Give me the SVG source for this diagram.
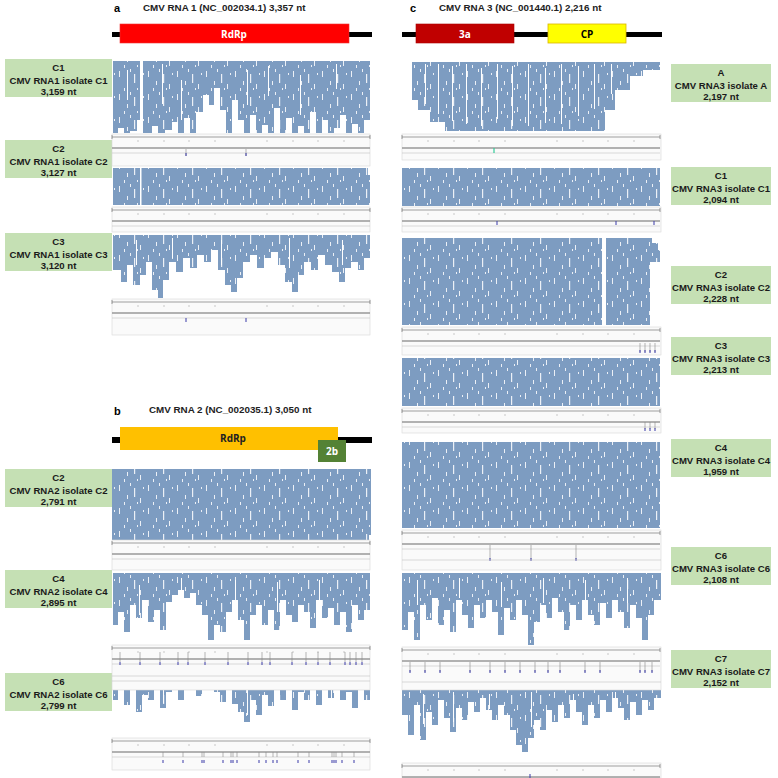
<svg xmlns="http://www.w3.org/2000/svg" xmlns:xlink="http://www.w3.org/1999/xlink" width="778" height="778" viewBox="0 0 778 778">
<style>
.hd{font-family:"Liberation Sans",Arial,sans-serif;font-weight:bold;font-size:11px;fill:#000}
.tt{font-family:"Liberation Sans",Arial,sans-serif;font-weight:bold;font-size:9.8px;fill:#222}
.lb{font-family:"Liberation Sans",Arial,sans-serif;font-weight:bold;font-size:9.6px;fill:#1a1a1a;text-anchor:middle}
.gn{font-family:"Open Sans","Liberation Sans",sans-serif;font-weight:bold;font-size:10px;text-anchor:middle}
.box{fill:#c5e0b4}
.rd{fill:#7d9cc1}
.tx{fill:url(#tx)}
.wl{fill:#fff}
.bg{fill:#fafafa;stroke:#d8d8d8;stroke-width:0.6}
.rul{stroke:#777;stroke-width:0.7;fill:none}
.ln{stroke:#999;stroke-width:1.4;fill:none}
.ln2{stroke:#c8c8c8;stroke-width:0.7;fill:none}
.mt{stroke:#aaa;stroke-width:0.6;fill:none}
.vt{stroke:#3a3aa8;stroke-width:1;fill:none}
.gt{stroke:#888;stroke-width:0.6;fill:none}
</style>
<defs>
<pattern id="tx" width="29" height="23" patternUnits="userSpaceOnUse">
<rect x="3" y="2" width="1" height="6" fill="#fff" opacity="0.85"/>
<rect x="11" y="12" width="1" height="4" fill="#fff" opacity="0.85"/>
<rect x="18" y="5" width="1.2" height="9" fill="#fff" opacity="0.85"/>
<rect x="24" y="15" width="1" height="5" fill="#fff" opacity="0.85"/>
<rect x="8" y="19" width="1" height="3" fill="#fff" opacity="0.85"/>
<rect x="14" y="0" width="1" height="3" fill="#fff" opacity="0.85"/>
<rect x="27" y="4" width="1" height="2" fill="#fff" opacity="0.85"/>
<rect x="21" y="19" width="1" height="2" fill="#fff" opacity="0.85"/>
</pattern>
<g id="trk">
<path class="rul" d="M0,0H258M0,-2V2M258,-2V2"/>
<rect x="124" y="-1" width="10" height="2" fill="#ccc"/>
<path class="mt" d="M26,3V5M52,3V5M77,3V5M103,3V5M155,3V5M181,3V5M206,3V5M232,3V5"/>
<path class="ln" d="M0,11H258"/>
<path class="ln2" d="M0,16H258"/>
</g>
<path id="p1" d="M113,61V133H118V128H124V133H130V131H137V120H140V61H143V133H152V126H158V133H165V130H172V122H178V133H184V118H190V133H196V112H203V95H209V105H214V88H220V110H226V133H232V100H238V120H244V133H250V115H256V133H262V125H268V133H274V108H280V133H286V118H292V133H298V126H304V133H310V112H316V133H322V120H328V133H334V128H340V115H346V133H352V124H358V133H364V120H370V61Z"/>
<path id="p2" d="M113,168H368V175H370V205H113Z"/>
<path id="p3" d="M113,235V270H121V282H127V265H133V285H140V275H146V262H152V290H158V298H163V280H169V262H176V272H183V258H190V268H197V255H204V262H211V250H218V270H225V285H231V292H237V278H243V262H250V255H257V268H264V258H271V252H278V265H285V282H292V292H298V275H304V262H311V270H318V255H325V265H332V272H339V282H345V268H351V262H358V270H364V258H370V235Z"/>
<path id="p4" d="M112,469H371V535H369V540H112Z"/>
<path id="p5" d="M113,573V625H118V612H124V632H130V605H136V618H142V600H148V622H154V610H160V630H166V602H172V595H178V590H184V598H190V593H196V605H202V615H208V640H214V625H220V632H226V612H232V600H238V620H244V640H250V615H256V605H262V625H268V610H274V630H280V600H286V615H292V622H298V605H304V612H310V628H316V600H322V618H328V608H334V625H340V612H346V632H352V605H358V620H364V610H370V573Z"/>
<path id="p6" d="M113,675V700H118V690H124V705H130V688H136V712H142V695H148V700H154V686H160V708H166V692H172V685H178V700H184V690H190V684H196V696H202V688H208V684H214V692H220V702H226V690H232V704H238V712H244V722H250V700H256V715H262V695H268V706H274V690H280V700H286V686H292V710H298V692H304V700H310V688H316V705H322V690H328V698H334V686H340V700H346V692H352V708H358V690H364V700H370V675Z"/>
<path id="p7" d="M412,62H660V70H643V76H630V90H615V110H605V131H445V122H430V110H418V100H412Z"/>
<path id="p8" d="M402,168H660V206H402Z"/>
<path id="p9" d="M402,238H602V325H402Z"/>
<path id="p9b" d="M606,238H652V243H658V250H660V262H650V325H606Z"/>
<path id="p10" d="M402,358H660V406H402Z"/>
<path id="p11" d="M402,442H660V528H402Z"/>
<path id="p12" d="M402,573V630H408V612H414V640H420V605H426V620H432V598H438V625H444V610H450V632H456V600H462V615H468V628H474V605H480V618H486V600H492V612H498V635H504V608H510V620H516V600H522V615H528V645H534V622H540V605H546V618H552V598H558V612H564V630H570V605H576V620H582V600H588V615H594V625H600V603H606V618H612V600H618V612H624V628H630V605H636V618H642V640H648V615H654V600H661V573Z"/>
<path id="p13" d="M402,690V715H408V735H414V705H420V740H426V712H432V725H438V700H444V718H450V732H456V708H462V720H468V702H474V712H480V698H486V710H492V720H498V705H504V715H510V730H516V745H522V752H528V738H534V720H540V730H546V710H552V722H558V705H564V718H570V700H576V712H582V725H588V705H594V718H600V700H606V712H612V698H618V708H624V720H630V702H636V715H642V700H648V710H654V698H661V690Z"/>
</defs>

<!-- Panel a header -->
<g id="hdr-a">
<text class="hd" x="114" y="12">a</text>
<text class="tt" x="143" y="11">CMV RNA 1 (NC_002034.1) 3,357 nt</text>
<rect x="112" y="32" width="260" height="5" fill="#000"/>
<rect x="120" y="24" width="229" height="19" fill="#ff0000" stroke="#e33" stroke-width="0.6"/>
<text class="gn" x="234" y="37.5" fill="#fff">RdRp</text>
</g>

<!-- Panel c header -->
<g id="hdr-c">
<text class="hd" x="410" y="12">c</text>
<text class="tt" x="439" y="11">CMV RNA 3 (NC_001440.1) 2,216 nt</text>
<rect x="402" y="32" width="260" height="5" fill="#000"/>
<rect x="416" y="24" width="98" height="19" fill="#c00000" stroke="#a00" stroke-width="0.6"/>
<text class="gn" x="465" y="37.5" fill="#fff">3a</text>
<rect x="548" y="24" width="78" height="19" fill="#ffff00" stroke="#d9b400" stroke-width="0.8"/>
<text class="gn" x="587" y="37.5" fill="#000">CP</text>
</g>

<!-- Panel b header -->
<g id="hdr-b">
<text class="hd" x="114" y="415">b</text>
<text class="tt" x="149" y="413">CMV RNA 2 (NC_002035.1) 3,050 nt</text>
<rect x="112" y="437" width="260" height="6" fill="#000"/>
<rect x="120" y="427" width="218" height="23" fill="#ffc000"/>
<text class="gn" x="233" y="442" fill="#222">RdRp</text>
<rect x="318" y="440" width="28" height="22" fill="#548235"/>
<text class="gn" x="332" y="455" fill="#fff">2b</text>
</g>

<!-- Left labels -->
<g id="lab-r1c1"><rect class="box" x="5" y="59" width="107" height="38"/><text class="lb" x="58.5" y="71">C1</text><text class="lb" x="58.5" y="83.5">CMV RNA1 isolate C1</text><text class="lb" x="58.5" y="94.5">3,159 nt</text></g>
<g id="lab-r1c2"><rect class="box" x="5" y="140" width="107" height="38"/><text class="lb" x="58.5" y="152">C2</text><text class="lb" x="58.5" y="164.5">CMV RNA1 isolate C2</text><text class="lb" x="58.5" y="175.5">3,127 nt</text></g>
<g id="lab-r1c3"><rect class="box" x="5" y="233" width="107" height="38"/><text class="lb" x="58.5" y="245">C3</text><text class="lb" x="58.5" y="257.5">CMV RNA1 isolate C3</text><text class="lb" x="58.5" y="268.5">3,120 nt</text></g>
<g id="lab-r2c2"><rect class="box" x="5" y="469" width="107" height="38"/><text class="lb" x="58.5" y="481">C2</text><text class="lb" x="58.5" y="493.5">CMV RNA2 isolate C2</text><text class="lb" x="58.5" y="504.5">2,791 nt</text></g>
<g id="lab-r2c4"><rect class="box" x="5" y="570" width="107" height="38"/><text class="lb" x="58.5" y="582">C4</text><text class="lb" x="58.5" y="594.5">CMV RNA2 isolate C4</text><text class="lb" x="58.5" y="605.5">2,895 nt</text></g>
<g id="lab-r2c6"><rect class="box" x="5" y="673" width="107" height="38"/><text class="lb" x="58.5" y="685">C6</text><text class="lb" x="58.5" y="697.5">CMV RNA2 isolate C6</text><text class="lb" x="58.5" y="708.5">2,799 nt</text></g>

<!-- Right labels -->
<g id="lab-r3a"><rect class="box" x="671" y="64" width="100" height="38"/><text class="lb" x="721" y="76">A</text><text class="lb" x="721" y="88.5">CMV RNA3 isolate A</text><text class="lb" x="721" y="99.5">2,197 nt</text></g>
<g id="lab-r3c1"><rect class="box" x="671" y="167" width="100" height="38"/><text class="lb" x="721" y="179">C1</text><text class="lb" x="721" y="191.5">CMV RNA3 isolate C1</text><text class="lb" x="721" y="202.5">2,094 nt</text></g>
<g id="lab-r3c2"><rect class="box" x="671" y="266" width="100" height="38"/><text class="lb" x="721" y="278">C2</text><text class="lb" x="721" y="290.5">CMV RNA3 isolate C2</text><text class="lb" x="721" y="301.5">2,228 nt</text></g>
<g id="lab-r3c3"><rect class="box" x="671" y="337" width="100" height="38"/><text class="lb" x="721" y="349">C3</text><text class="lb" x="721" y="361.5">CMV RNA3 isolate C3</text><text class="lb" x="721" y="372.5">2,213 nt</text></g>
<g id="lab-r3c4"><rect class="box" x="671" y="439" width="100" height="38"/><text class="lb" x="721" y="451">C4</text><text class="lb" x="721" y="463.5">CMV RNA3 isolate C4</text><text class="lb" x="721" y="474.5">1,959 nt</text></g>
<g id="lab-r3c6"><rect class="box" x="671" y="547" width="100" height="38"/><text class="lb" x="721" y="559">C6</text><text class="lb" x="721" y="571.5">CMV RNA3 isolate C6</text><text class="lb" x="721" y="582.5">2,108 nt</text></g>
<g id="lab-r3c7"><rect class="box" x="671" y="650" width="100" height="38"/><text class="lb" x="721" y="662">C7</text><text class="lb" x="721" y="674.5">CMV RNA3 isolate C7</text><text class="lb" x="721" y="685.5">2,152 nt</text></g>

<!-- Read coverage panels -->
<g id="reads-r1c1"><use xlink:href="#p1" class="rd"/><use xlink:href="#p1" class="tx"/>
<path class="wl" d="M127,70h1v30h-1zM162,64h1v40h-1zM181,80h1v40h-1zM247,70h1v35h-1zM268,66h1v30h-1zM300,75h1v40h-1zM336,64h1v25h-1z"/></g>
<g id="reads-r1c2"><use xlink:href="#p2" class="rd"/><use xlink:href="#p2" class="tx"/>
<rect class="wl" x="140" y="168" width="1.5" height="37"/></g>
<g id="reads-r1c3"><use xlink:href="#p3" class="rd"/><use xlink:href="#p3" class="tx"/>
<path class="wl" d="M136,240h1v25h-1zM172,238h1v20h-1zM221,240h1v25h-1zM289,238h1v30h-1zM342,240h1v25h-1z"/></g>
<g id="reads-r2c2"><use xlink:href="#p4" class="rd"/><use xlink:href="#p4" class="tx"/></g>
<g id="reads-r2c4"><use xlink:href="#p5" class="rd"/><use xlink:href="#p5" class="tx"/>
<path class="wl" d="M139,585h1v30h-1zM181,578h1v12h-1zM235,580h1v25h-1zM277,582h1v30h-1zM319,580h1v20h-1z"/></g>
<g id="reads-r2c6"><use xlink:href="#p6" class="rd"/><use xlink:href="#p6" class="tx"/>
<path class="wl" d="M133,680h1v25h-1zM163,678h1v25h-1zM199,676h1v12h-1zM247,680h1v35h-1zM289,678h1v25h-1zM331,680h1v20h-1z"/></g>

<g id="reads-r3a"><use xlink:href="#p7" class="rd"/><use xlink:href="#p7" class="tx"/>
<path class="wl" d="M425,64h1v40h-1zM438,64h1v50h-1zM452,66h1v55h-1zM466,64h1v60h-1zM481,68h1v58h-1zM497,64h1v55h-1zM512,66h1v60h-1zM528,64h1v62h-1zM545,68h1v55h-1zM561,64h1v60h-1zM578,66h1v50h-1zM594,64h1v45h-1zM611,64h1v30h-1z"/></g>
<g id="reads-r3c1"><use xlink:href="#p8" class="rd"/><use xlink:href="#p8" class="tx"/></g>
<g id="reads-r3c2"><use xlink:href="#p9" class="rd"/><use xlink:href="#p9b" class="rd"/><use xlink:href="#p9" class="tx"/><use xlink:href="#p9b" class="tx"/></g>
<g id="reads-r3c3"><use xlink:href="#p10" class="rd"/><use xlink:href="#p10" class="tx"/></g>
<g id="reads-r3c4"><use xlink:href="#p11" class="rd"/><use xlink:href="#p11" class="tx"/></g>
<g id="reads-r3c6"><use xlink:href="#p12" class="rd"/><use xlink:href="#p12" class="tx"/>
<path class="wl" d="M417,580h1v25h-1zM459,578h1v20h-1zM501,582h1v25h-1zM543,578h1v25h-1zM585,580h1v20h-1zM627,578h1v25h-1z"/></g>
<g id="reads-r3c7"><use xlink:href="#p13" class="rd"/><use xlink:href="#p13" class="tx"/>
<path class="wl" d="M423,694h1v30h-1zM453,692h1v30h-1zM489,694h1v15h-1zM531,692h1v35h-1zM573,694h1v20h-1zM615,692h1v15h-1z"/></g>

<!-- Tracks -->
<g id="trk-r1c1"><rect class="bg" x="112" y="134" width="258" height="32"/><use xlink:href="#trk" transform="translate(112,137)"/><path class="gt" d="M186,149V156M246,149V156"/><path class="vt" d="M186,153V156M246,153V156"/></g>
<g id="trk-r1c2"><rect class="bg" x="112" y="207" width="258" height="25"/><use xlink:href="#trk" transform="translate(112,210)"/></g>
<g id="trk-r1c3"><rect class="bg" x="112" y="299" width="258" height="36"/><use xlink:href="#trk" transform="translate(112,302)"/><path class="vt" d="M186,318V322M246,318V322"/></g>
<g id="trk-r2c2"><rect class="bg" x="112" y="540" width="258" height="30"/><use xlink:href="#trk" transform="translate(112,543)"/></g>
<g id="trk-r2c4"><rect class="bg" x="112" y="645" width="258" height="45"/><use xlink:href="#trk" transform="translate(112,648)"/><path class="gt" d="M120,652V662M140,652V662M160,652V662M178,652V662M188,652V662M205,652V662M228,652V662M248,652V662M262,652V662M270,652V662M292,652V662M306,652V662M318,652V662M330,652V662M345,652V662M350,652V662M356,652V662M362,652V662"/><path class="vt" d="M120,662V665M140,662V665M160,662V665M178,662V665M188,662V665M205,662V665M228,662V665M248,662V665M262,662V665M270,662V665M292,662V665M306,662V665M318,662V665M330,662V665M345,662V665M350,662V665M356,662V665M362,662V665"/><path class="ln2" d="M112,676H370M112,681H370"/></g>
<g id="trk-r2c6"><rect class="bg" x="112" y="738" width="258" height="32"/><use xlink:href="#trk" transform="translate(112,741)"/><path class="gt" d="M163,752V757M183,752V757M202,752V757M204,752V757M223,752V757M231,752V757M233,752V757M237,752V757M259,752V757M266,752V757M273,752V757M277,752V757M298,752V757M309,752V757M332,752V757M334,752V757M336,752V757M342,752V757M354,752V757"/><path class="vt" d="M163,760V763M183,760V763M202,760V763M204,760V763M223,760V763M231,760V763M233,760V763M237,760V763M259,760V763M266,760V763M273,760V763M277,760V763M298,760V763M309,760V763M332,760V763M334,760V763M336,760V763M342,760V763M354,760V763"/></g>

<g id="trk-r3a"><rect class="bg" x="402" y="134" width="259" height="26"/><use xlink:href="#trk" transform="translate(402,137)"/><path d="M494,148V153" stroke="#3c9" stroke-width="1.2"/></g>
<g id="trk-r3c1"><rect class="bg" x="402" y="207" width="259" height="25"/><use xlink:href="#trk" transform="translate(402,210)"/><path class="vt" d="M497,221V225M616,221V225M654,221V225"/></g>
<g id="trk-r3c2"><rect class="bg" x="402" y="327" width="259" height="28"/><use xlink:href="#trk" transform="translate(402,330)"/><path class="gt" d="M640,343V352M645,343V352M650,343V352M655,343V352"/><path class="vt" d="M640,350V353M645,350V353M650,350V353M655,350V353"/></g>
<g id="trk-r3c3"><rect class="bg" x="402" y="408" width="259" height="25"/><use xlink:href="#trk" transform="translate(402,411)"/><path class="gt" d="M645,422V429M650,422V429M655,422V429"/><path class="vt" d="M645,428V431M650,428V431M655,428V431"/></g>
<g id="trk-r3c4"><rect class="bg" x="402" y="530" width="259" height="40"/><use xlink:href="#trk" transform="translate(402,533)"/><path class="gt" d="M490,545V560M531,545V560M576,545V560"/><path class="vt" d="M490,558V561M531,558V561M576,558V561"/><path class="ln2" d="M402,560H661"/></g>
<g id="trk-r3c6"><rect class="bg" x="402" y="647" width="259" height="43"/><use xlink:href="#trk" transform="translate(402,650)"/><path class="gt" d="M410,662V672M425,662V672M440,662V672M470,662V672M490,662V672M505,662V672M520,662V672M535,662V672M548,662V672M560,662V672M585,662V672M600,662V672M640,662V672M645,662V672M652,662V672"/><path class="vt" d="M410,670V673M425,670V673M440,670V673M470,670V673M490,670V673M505,670V673M520,670V673M535,670V673M548,670V673M560,670V673M585,670V673M600,670V673M640,670V673M645,670V673M652,670V673"/><path class="ln2" d="M402,682H661"/></g>
<g id="trk-r3c7"><rect class="bg" x="402" y="763" width="259" height="15"/><use xlink:href="#trk" transform="translate(402,766)"/><path class="vt" d="M530,774V778"/></g>
</svg>
